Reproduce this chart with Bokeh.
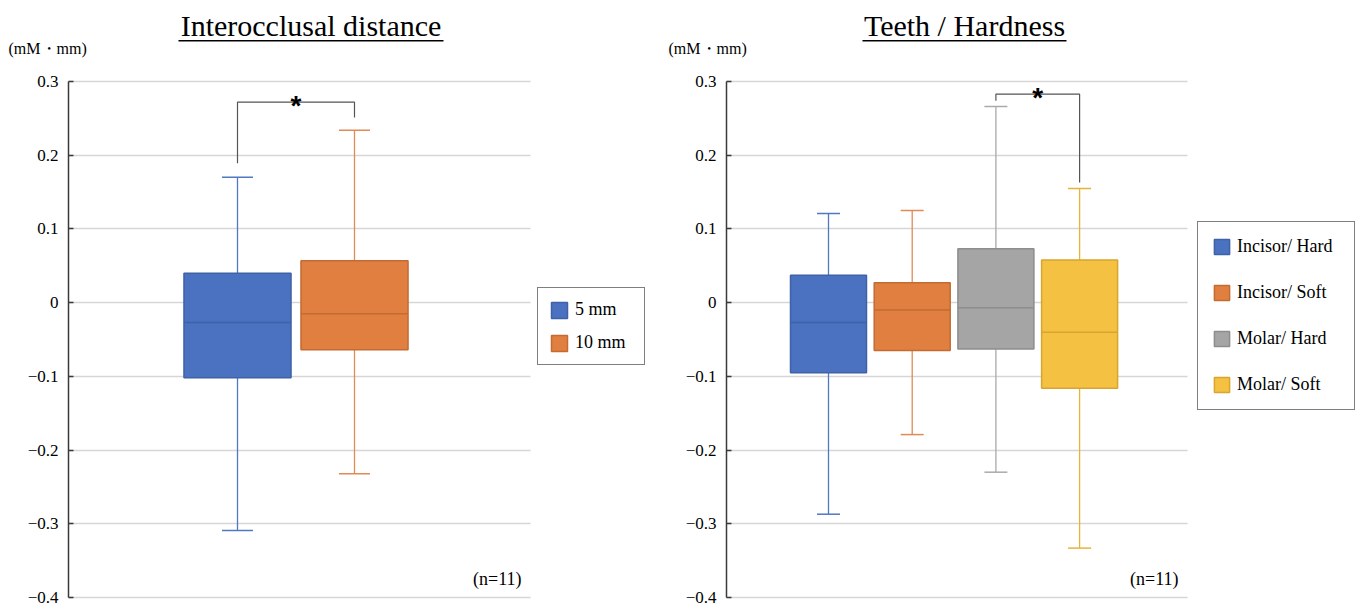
from bokeh.plotting import figure
from bokeh.models import (ColumnDataSource, Range1d, FixedTicker, Legend, LegendItem,
                          Label, BoxAnnotation)
from bokeh.layouts import row
from bokeh.embed import file_html
from bokeh.resources import INLINE
from bokeh.core.properties import value

# ---------------- data ----------------
# Left chart: Interocclusal distance
dist_labels = ["5 mm", "10 mm"]
dist_pos = [1, 2]
dist_min = [-0.309, -0.232]
dist_q1 = [-0.102, -0.064]
dist_med = [-0.027, -0.015]
dist_q3 = [0.040, 0.057]
dist_max = [0.170, 0.234]

# Right chart: Teeth / Hardness
tooth_labels = ["Incisor/ Hard", "Incisor/ Soft", "Molar/ Hard", "Molar/ Soft"]
tooth_pos = [1, 2, 3, 4]
tooth_min = [-0.287, -0.179, -0.230, -0.333]
tooth_q1 = [-0.095, -0.065, -0.063, -0.116]
tooth_med = [-0.027, -0.010, -0.007, -0.040]
tooth_q3 = [0.037, 0.027, 0.073, 0.058]
tooth_max = [0.121, 0.125, 0.266, 0.155]

# y axis ticks
y_ticks = [-0.4, -0.3, -0.2, -0.1, 0, 0.1, 0.2, 0.3]
y_tick_labels = ["\u22120.4", "\u22120.3", "\u22120.2", "\u22120.1", "0", "0.1", "0.2", "0.3"]

# significance brackets (pair of positions, bracket top, leg bottoms)
dist_sig_x = [1, 2]
dist_sig_top = 0.272
dist_sig_legs = [0.189, 0.251]
tooth_sig_x = [3, 4]
tooth_sig_top = 0.283
tooth_sig_legs = [0.274, 0.163]

n_text = "(n=11)"
unit_text = "(mM\u30fbmm)"

# ---------------- styles ----------------
FILL = ["#4a72c0", "#e07f3f", "#a5a5a5", "#f4c142"]
EDGE = ["#3f62a6", "#c26c33", "#8d8d8d", "#d8a52f"]
WHISK = ["#5078c4", "#e08a55", "#aaaaaa", "#e6b43c"]
SERIF = "Liberation Serif"
H = 606           # canvas height
Y_TOP_PX = 81     # canvas px of y = 0.3
Y_BOT_PX = 597    # canvas px of y = -0.4
PX_PER_Y = (Y_BOT_PX - Y_TOP_PX) / 0.7


def make_chart(title, labels, pos, mins, q1, med, q3, maxs, sig_x, sig_top, sig_legs,
               width, px_per_x, first_px, axis_px, end_px, box_w, cap_w,
               title_cx, ul_left, ul_right, unit_x, legend_x, legend_bottom_px, legend_pad,
               legend_spacing, glyph, label_w):
    k = len(labels)
    x_start = pos[0] - first_px / px_per_x
    x_end = x_start + width / px_per_x
    ax_x = x_start + axis_px / px_per_x
    plot_end = x_start + end_px / px_per_x
    y_end = 0.3 + Y_TOP_PX / PX_PER_Y
    y_start = y_end - H / PX_PER_Y

    src = ColumnDataSource(dict(
        x=pos, lo=mins, q1=q1, med=med, q3=q3, hi=maxs, label=labels,
        fill=FILL[:k], edge=EDGE[:k], wh=WHISK[:k],
        cl=[p - cap_w / 2 for p in pos], cr=[p + cap_w / 2 for p in pos],
        bl=[p - box_w / 2 for p in pos], br=[p + box_w / 2 for p in pos],
    ))
    p = figure(width=width, height=H, output_backend="svg", toolbar_location=None,
               x_range=Range1d(x_start, x_end), y_range=Range1d(y_start, y_end),
               min_border=0, min_border_left=0, min_border_right=0,
               min_border_top=0, min_border_bottom=0)
    p.outline_line_color = None
    p.background_fill_color = "white"
    p.border_fill_color = "white"
    p.xaxis.visible = False
    p.xgrid.grid_line_color = None

    ax = p.yaxis[0]
    ax.fixed_location = ax_x
    ax.bounds = (-0.4, 0.3)
    ax.ticker = FixedTicker(ticks=y_ticks)
    ax.major_label_overrides = {t: s for t, s in zip(y_ticks, y_tick_labels)}
    ax.axis_line_color = "#3a3a3a"
    ax.axis_line_width = 1.5
    ax.major_tick_line_color = "#3a3a3a"
    ax.major_tick_line_width = 1.5
    ax.major_tick_in = 5
    ax.major_tick_out = 0
    ax.minor_tick_line_color = None
    ax.major_label_standoff = 10
    ax.major_label_text_font = SERIF
    ax.major_label_text_font_size = "17px"
    ax.major_label_text_color = "black"

    grid = p.ygrid[0]
    grid.ticker = FixedTicker(ticks=y_ticks)
    grid.grid_line_color = "#d6d6d6"
    grid.grid_line_width = 1.5
    try:
        grid.cross_bounds = (ax_x, plot_end)
    except Exception:
        grid.grid_line_color = None
        p.segment(x0=[ax_x] * len(y_ticks), x1=[plot_end] * len(y_ticks), y0=y_ticks, y1=y_ticks,
                  line_color="#d6d6d6", line_width=1.5, level="underlay")

    # whiskers and caps
    p.segment(x0="x", y0="q3", x1="x", y1="hi", source=src, line_color="wh", line_width=1.3)
    p.segment(x0="x", y0="q1", x1="x", y1="lo", source=src, line_color="wh", line_width=1.3)
    p.segment(x0="cl", y0="hi", x1="cr", y1="hi", source=src, line_color="wh", line_width=1.5)
    p.segment(x0="cl", y0="lo", x1="cr", y1="lo", source=src, line_color="wh", line_width=1.5)
    # boxes
    boxes = p.vbar(x="x", width=box_w, top="q3", bottom="q1", source=src,
                   fill_color="fill", line_color="edge", line_width=1.5)
    p.segment(x0="bl", y0="med", x1="br", y1="med", source=src, line_color="edge", line_width=1.5)

    # significance bracket
    p.line(x=[sig_x[0], sig_x[0], sig_x[1], sig_x[1]],
           y=[sig_legs[0], sig_top, sig_top, sig_legs[1]],
           line_color="#555555", line_width=1.2)
    p.text(x=[sum(sig_x) / 2], y=[sig_top], text=["*"], text_align="center",
           text_baseline="alphabetic", text_font=value("Liberation Sans"),
           text_font_style="bold", text_font_size="28px", text_color="black",
           y_offset=3)

    # title with underline, unit label, n label (screen units: from frame bottom-left)
    p.add_layout(Label(x=title_cx, y=H - 25, x_units="screen", y_units="screen", text=title,
                       text_align="center", text_baseline="middle", text_font=SERIF,
                       text_font_size="30px", text_color="black"))
    p.add_layout(BoxAnnotation(left=ul_left, right=ul_right, bottom=H - 41, top=H - 39.5,
                               left_units="screen", right_units="screen",
                               bottom_units="screen", top_units="screen",
                               fill_color="black", fill_alpha=1, line_color=None))
    p.add_layout(Label(x=unit_x, y=H - 48, x_units="screen", y_units="screen", text=unit_text,
                       text_align="left", text_baseline="middle", text_font=SERIF,
                       text_font_size="16px", text_color="black"))
    p.add_layout(Label(x=plot_end, y=-0.4, y_offset=19, x_offset=-9, text=n_text,
                       text_align="right", text_baseline="middle", text_font=SERIF,
                       text_font_size="18px", text_color="black"))

    legend = Legend(items=[LegendItem(label=labels[i], renderers=[boxes], index=i) for i in range(k)],
                    location=(legend_x, H - legend_bottom_px))
    legend.border_line_color = "black"
    legend.border_line_width = 1.5
    legend.padding = legend_pad
    legend.spacing = legend_spacing
    legend.glyph_width = glyph
    legend.glyph_height = glyph
    legend.label_height = glyph
    legend.label_width = label_w
    legend.label_standoff = 6
    legend.margin = 0
    legend.label_text_font = SERIF
    legend.label_text_font_size = "18px"
    legend.label_text_color = "black"
    legend.background_fill_alpha = 1
    p.add_layout(legend, "center")
    return p


p1 = make_chart("Interocclusal distance", dist_labels, dist_pos, dist_min, dist_q1, dist_med,
                dist_q3, dist_max, dist_sig_x, dist_sig_top, dist_sig_legs,
                width=656, px_per_x=117.0, first_px=237, axis_px=68, end_px=530,
                box_w=0.915, cap_w=0.265,
                title_cx=310.5, ul_left=178, ul_right=443, unit_x=8,
                legend_x=537, legend_bottom_px=365, legend_pad=11, legend_spacing=12, glyph=20,
                label_w=58)

p2 = make_chart("Teeth / Hardness", tooth_labels, tooth_pos, tooth_min, tooth_q1, tooth_med,
                tooth_q3, tooth_max, tooth_sig_x, tooth_sig_top, tooth_sig_legs,
                width=704, px_per_x=83.7, first_px=172, axis_px=70, end_px=531,
                box_w=0.908, cap_w=0.275,
                title_cx=308, ul_left=206, ul_right=410, unit_x=12,
                legend_x=541, legend_bottom_px=410, legend_pad=14, legend_spacing=25, glyph=19,
                label_w=103)

layout = row(p1, p2, spacing=0)
open("out.html", "w").write(file_html(layout, INLINE))
